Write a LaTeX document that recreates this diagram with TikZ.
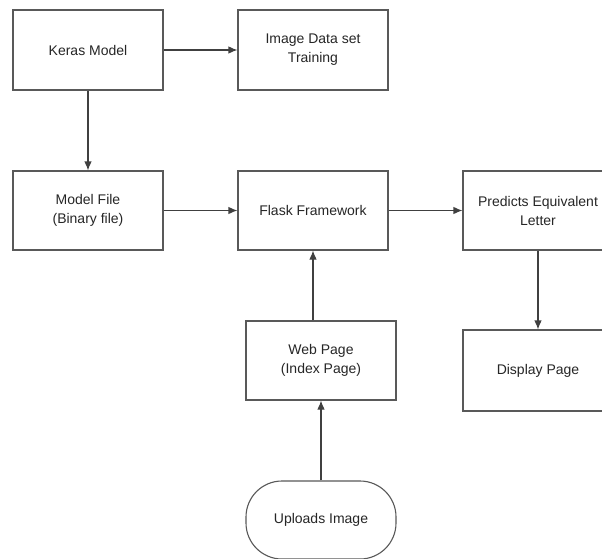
\documentclass[tikz,border=0pt]{standalone}
\usepackage{fontspec}
\setmainfont{Liberation Sans}
\usetikzlibrary{arrows.meta}
\begin{document}
\begin{tikzpicture}[x=1pt, y=1pt,
  box/.style={draw=black!65, line width=1.1pt, align=center, minimum width=150pt, minimum height=80pt, text=black!85, font=\fontsize{14}{19}\selectfont},
  flow/.style={draw=black!75, line width=1.1pt, -{Latex[length=9pt,width=7.5pt]}}]
\clip (0,0) rectangle (602,-559);
\fill[white] (0,0) rectangle (602,-559);
\node[box] (keras) at (88,-50) {Keras Model};
\node[box] (data) at (313,-50) {Image Data set\\Training};
\node[box, minimum height=79pt] (model) at (88,-210.5) {Model File\\(Binary file)};
\node[box, minimum height=79pt] (flask) at (313,-210.5) {Flask Framework};
\node[box, minimum height=79pt] (predict) at (538,-210.5) {Predicts Equivalent\\Letter};
\node[box, minimum height=79pt] (web) at (321,-360.5) {Web Page\\(Index Page)};
\node[box, minimum height=81pt] (display) at (538,-370.5) {Display Page};
\node[box, minimum height=78pt, rounded corners=36pt] (upload) at (321,-520) {Uploads Image};
\draw[flow] (keras) -- (data);
\draw[flow] (keras) -- (model);
\draw[flow] (model) -- (flask);
\draw[flow] (flask) -- (predict);
\draw[flow] (predict) -- (display);
\draw[flow] (flask.south |- web.north) -- (flask.south);
\draw[flow] (upload) -- (web);
\end{tikzpicture}
\end{document}
